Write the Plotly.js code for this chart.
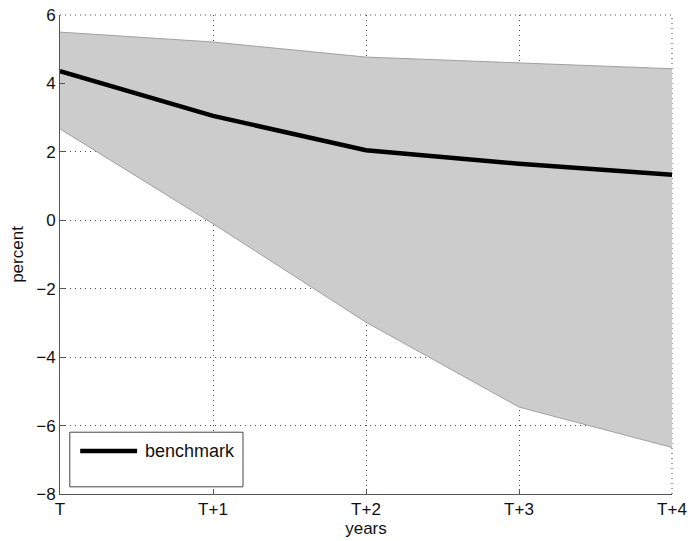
<!DOCTYPE html>
<html>
<head>
<meta charset="utf-8">
<script src="https://cdn.plot.ly/plotly-3.0.1.min.js"></script>
<style>html,body{margin:0;padding:0;background:#fff;}#chart{width:691px;height:541px;}</style>
</head>
<body>
<div id="chart"></div>
<script>
const years = ["T", "T+1", "T+2", "T+3", "T+4"];
const benchmark = [4.36, 3.05, 2.05, 1.65, 1.33];
const upperBand = [5.5, 5.21, 4.77, 4.6, 4.43];
const lowerBand = [2.67, -0.1, -2.98, -5.46, -6.64];

const traces = [
  {x: years, y: lowerBand, type: "scatter", mode: "lines", line: {color: "#a0a0a0", width: 1}, showlegend: false, hoverinfo: "skip"},
  {x: years, y: upperBand, type: "scatter", mode: "lines", fill: "tonexty", fillcolor: "#cccccc", line: {color: "#a0a0a0", width: 1}, showlegend: false, hoverinfo: "skip"},
  {x: years, y: benchmark, type: "scatter", mode: "lines", name: "benchmark", line: {color: "#000000", width: 4.5}, showlegend: false}
];

const fnt = {family: "Liberation Sans, Arial, sans-serif", size: 17, color: "#111"};
const gridDash = "1px,4px";

const layout = {
  width: 691, height: 541,
  margin: {l: 60, r: 19, t: 15, b: 47},
  paper_bgcolor: "#fff", plot_bgcolor: "#fff",
  font: fnt,
  xaxis: {
    type: "category", range: [0, 4],
    showline: true, linecolor: "#555", linewidth: 1,
    ticks: "inside", ticklen: 5, tickcolor: "#555",
    showgrid: true, gridcolor: "#444", griddash: gridDash, gridwidth: 1,
    zeroline: false, tickfont: fnt,
    title: {text: "years", font: fnt, standoff: 2}
  },
  yaxis: {
    range: [-8, 6], dtick: 2,
    showline: true, linecolor: "#555", linewidth: 1,
    ticks: "inside", ticklen: 5, tickcolor: "#555",
    showgrid: true, gridcolor: "#444", griddash: gridDash, gridwidth: 1,
    zeroline: false, tickfont: fnt,
    title: {text: "percent", font: fnt, standoff: 8}
  },
  shapes: [
    {type: "line", xref: "paper", yref: "paper", x0: 0, x1: 1, y0: 1, y1: 1, line: {color: "#444", width: 1, dash: gridDash}, layer: "below"},
    {type: "line", xref: "paper", yref: "paper", x0: 1, x1: 1, y0: 0, y1: 1, line: {color: "#444", width: 1, dash: gridDash}, layer: "below"},
    {type: "rect", xref: "paper", yref: "paper", x0: 0.016, x1: 0.299, y0: 0.015, y1: 0.129, line: {color: "#444", width: 1}, fillcolor: "#fff", layer: "above"},
    {type: "line", xref: "paper", yref: "paper", x0: 0.033, x1: 0.126, y0: 0.09, y1: 0.09, line: {color: "#000", width: 4.5}, layer: "above"}
  ],
  annotations: [
    {xref: "paper", yref: "paper", x: 0.135, y: 0.09, xanchor: "left", yanchor: "middle", text: "benchmark", showarrow: false, font: {family: "Liberation Sans, Arial, sans-serif", size: 18, color: "#111"}}
  ]
};

Plotly.newPlot("chart", traces, layout, {displayModeBar: false, staticPlot: true});
</script>
</body>
</html>
